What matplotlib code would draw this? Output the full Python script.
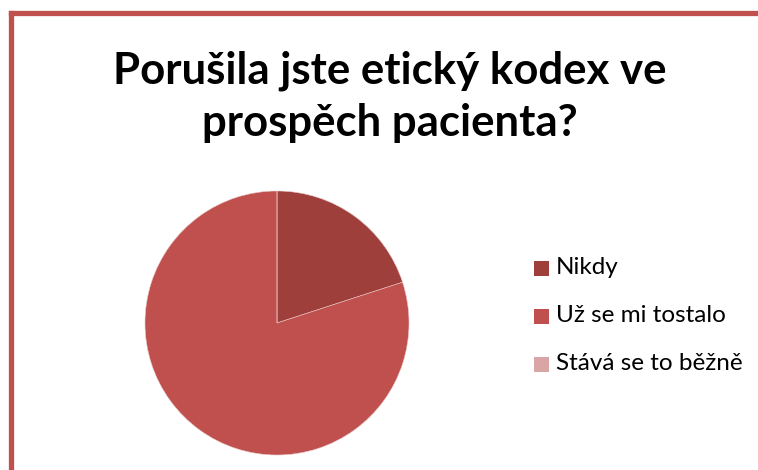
import matplotlib
matplotlib.use("Agg")
import matplotlib.pyplot as plt
from matplotlib.lines import Line2D
from matplotlib.patches import Rectangle

W, H = 758, 470
DPI = 100

# data
labels = ["Nikdy", "Už se mi tostalo", "Stává se to běžně"]
values = [20, 80, 0]
colors = ["#9E3F3C", "#C0504D", "#D9A6A5"]
title = "Porušila jste etický kodex ve\nprospěch pacienta?"

plt.rcParams["font.family"] = ["Lato", "DejaVu Sans"]

fig = plt.figure(figsize=(W / DPI, H / DPI), dpi=DPI)


def fx(px):
    return px / W


def fy(py):
    # py measured from top
    return 1 - py / H


# red frame (only top and left edges visible)
BORDER = "#C0504D"
fig.add_artist(Line2D([fx(10.5), 1], [fy(12.5), fy(12.5)], color=BORDER,
                      linewidth=3.8, solid_capstyle="projecting"))
fig.add_artist(Line2D([fx(10.5), fx(10.5)], [fy(12.5), 0], color=BORDER,
                      linewidth=3.8, solid_capstyle="projecting"))

fig.text(fx(390), fy(97), title, ha="center", va="center", fontsize=31.5,
         fontweight="bold", linespacing=1.37)

# pie
cx, cy, r = 277, 323, 132
ax = fig.add_axes([fx(cx - r), fy(cy + r), 2 * r / W, 2 * r / H])
ax.pie(values, colors=colors, startangle=90, counterclock=False,
       wedgeprops={"edgecolor": "#E8C4C3", "linewidth": 0.4})
ax.set_xlim(-1, 1)
ax.set_ylim(-1, 1)
ax.set_aspect("auto")
ax.axis("off")

# legend
ys = [268, 316, 364]
for lab, col, y in zip(labels, colors, ys):
    fig.add_artist(Rectangle((fx(534), fy(y + 7.5)), 15 / W, 15 / H,
                             facecolor=col, edgecolor="none",
                             transform=fig.transFigure))
    fig.text(fx(556), fy(y), lab, ha="left", va="center", fontsize=17.5)

fig.savefig("out.png", dpi=DPI)
